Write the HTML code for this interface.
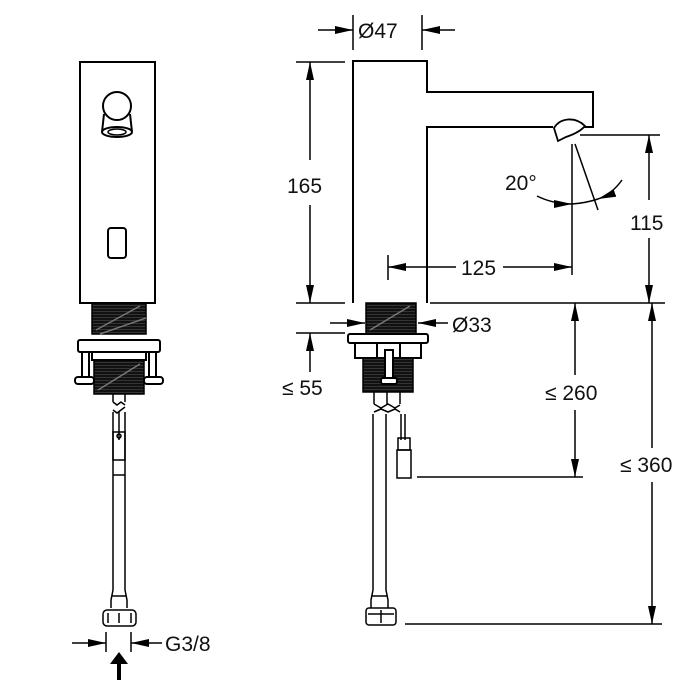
<!DOCTYPE html>
<html><head><meta charset="utf-8"><style>
html,body{margin:0;padding:0;background:#fff}
svg{display:block}
text{font-family:"Liberation Sans",sans-serif;font-size:21px;fill:#111;stroke:none}
</style></head><body>
<svg width="700" height="700" viewBox="0 0 700 700" xmlns="http://www.w3.org/2000/svg">
<defs>
<marker id="a" viewBox="0 0 18 8" refX="18" refY="4" markerWidth="18" markerHeight="8" markerUnits="userSpaceOnUse" orient="auto"><path d="M0,0L18,4L0,8z" fill="#000"/></marker>
<pattern id="th" width="6" height="3" patternUnits="userSpaceOnUse"><rect width="6" height="3" fill="#111"/><rect y="2.3" width="6" height="0.5" fill="#555"/></pattern>
</defs>
<g fill="none" stroke="#000" stroke-width="2">
<!-- LEFT VIEW -->
<rect x="80" y="62" width="75" height="241" fill="#fff"/>
<circle cx="117" cy="106" r="14"/>
<path d="M104,114 L102,132 M130,114 L132,132"/>
<ellipse cx="117" cy="132" rx="15" ry="5"/>
<ellipse cx="117" cy="132" rx="9" ry="3" stroke-width="1.5"/>
<rect x="108" y="228" width="18" height="30" rx="3"/>
<rect x="92" y="303" width="54" height="31" fill="url(#th)" stroke-width="1.5"/>
<path d="M96,330 L140,306 M100,334 L146,318" stroke="#777" stroke-width="1.5"/>
<rect x="78" y="340" width="82" height="12" rx="2" fill="#fff"/>
<rect x="92" y="352" width="54" height="8" fill="#fff"/>
<rect x="94" y="360" width="50" height="34" fill="url(#th)" stroke-width="1.5"/>
<path d="M98,390 L140,364" stroke="#777" stroke-width="1.5"/>
<rect x="82" y="352" width="7" height="26" fill="#fff"/>
<rect x="75" y="377" width="19" height="7" rx="3" fill="#fff"/>
<rect x="149" y="352" width="7" height="26" fill="#fff"/>
<rect x="144" y="377" width="19" height="7" rx="3" fill="#fff"/>
<g stroke-width="1.5">
<path d="M113,394 L113,402 M125,394 L125,402 M113,402 l4,3 4,-3 4,3 M113,410 l4,3 4,-3 4,-3"/>
<path d="M113,412 L113,590 M125,412 L125,590 M119,412 L119,440"/>
<rect x="113" y="432" width="12" height="28"/>
<circle cx="119" cy="436" r="2"/>
<path d="M113,475 L125,475"/>
<path d="M113,590 L111,600 L111,608 M125,590 L127,600 L127,608 M112,596 L126,596"/>
<rect x="103" y="610" width="33" height="16" rx="4"/>
<path d="M108,613 L108,623 M131,613 L131,623 M119,613 L119,623"/>
</g>
<g stroke-width="1.5">
<path d="M106,632 L106,652 M131,632 L131,652"/>
<path d="M72,643 L106,643" marker-end="url(#a)"/>
<path d="M162,643 L131,643" marker-end="url(#a)"/>
</g>
<path d="M119,680 L119,662" stroke-width="4"/>
<path d="M110,664 L119,652 L128,664z" fill="#000" stroke="none"/>

<!-- RIGHT VIEW -->
<path d="M353,303 L353,61 L427,61 L427,92 L593,92 L593,127 L565,127 M553,127 L427,127 L427,303" fill="#fff"/>
<path d="M554,128 C560,118 575,116 585,126 C580,132 572,135 566,137 L558,141 Z" fill="#fff" stroke-width="1.8"/>
<path d="M388,255 L388,280" stroke-width="1.5"/>
<rect x="366" y="303" width="50" height="31" fill="url(#th)" stroke-width="1.5"/>
<path d="M370,330 L410,306" stroke="#777" stroke-width="1.5"/>
<rect x="348" y="334" width="80" height="9" rx="2" fill="#fff"/>
<rect x="355" y="343" width="66" height="15" fill="#fff"/>
<path d="M377,343 L377,358 M400,343 L400,358"/>
<rect x="363" y="358" width="50" height="34" fill="url(#th)" stroke-width="1.5"/>
<rect x="385" y="350" width="8" height="30" fill="#fff"/>
<rect x="381" y="378" width="16" height="6" rx="2" fill="#fff"/>
<g stroke-width="1.5">
<path d="M374,392 L374,404 M387,392 L387,404 M400,392 L400,404 M374,404 l7,4 7,-4 7,4 5,-3 M374,412 l7,-3 7,3 7,-3 5,3"/>
<path d="M373,414 L373,590 M386,414 L386,590 M401,414 L401,440 M405,414 L405,440"/>
<rect x="398" y="438" width="12" height="12"/>
<rect x="397" y="450" width="14" height="28"/>
<path d="M373,590 L371,600 L371,608 M386,590 L388,600 L388,608 M372,596 L387,596"/>
<rect x="366" y="608" width="30" height="17" rx="3"/>
<path d="M381,610 L381,623 M368,614 L394,614"/>
</g>

<!-- dimensions -->
<g stroke-width="1.5">
<path d="M353,15 L353,50 M422,15 L422,50"/>
<path d="M318,30 L353,30" marker-end="url(#a)"/>
<path d="M455,30 L422,30" marker-end="url(#a)"/>
<path d="M296,62 L345,62 M296,303 L345,303 M296,333 L345,333"/>
<path d="M310,160 L310,62" marker-end="url(#a)"/>
<path d="M310,205 L310,303" marker-end="url(#a)"/>
<path d="M310,372 L310,333" marker-end="url(#a)" />
<path d="M330,323 L365,323" marker-end="url(#a)"/>
<path d="M448,323 L418,323" marker-end="url(#a)"/>
<path d="M456,267 L388,267" marker-end="url(#a)"/>
<path d="M503,267 L572,267" marker-end="url(#a)"/>
<path d="M572,144 L572,275 M575,144 L598,210"/>
<path d="M580,135 L660,135 M430,303 L665,303 M417,477 L583,477 M405,624 L662,624"/>
<path d="M649,200 L649,135" marker-end="url(#a)"/>
<path d="M649,238 L649,303" marker-end="url(#a)"/>
<path d="M575,375 L575,303" marker-end="url(#a)"/>
<path d="M575,410 L575,477" marker-end="url(#a)"/>
<path d="M652,448 L652,303" marker-end="url(#a)"/>
<path d="M652,482 L652,624" marker-end="url(#a)"/>
<path d="M537,196 Q553,204 572,204" marker-end="url(#a)"/>
<path d="M622,180 Q612,194 598,199" marker-end="url(#a)"/>
<path d="M572,204 Q586,203 598,199"/>
</g>
</g>
<text x="165" y="651">G3/8</text>
<text x="358" y="38">Ø47</text>
<text x="287" y="193">165</text>
<text x="461" y="275">125</text>
<text x="505" y="190">20°</text>
<text x="630" y="230">115</text>
<text x="452" y="332">Ø33</text>
<text x="282" y="395">≤ 55</text>
<text x="545" y="400">≤ 260</text>
<text x="620" y="472">≤ 360</text>
</svg>
</body></html>
